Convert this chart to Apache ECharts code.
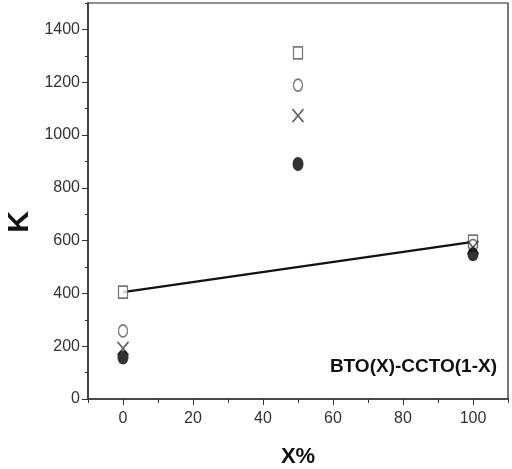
<!DOCTYPE html>
<html>
<head>
<meta charset="utf-8">
<script src="https://cdn.jsdelivr.net/npm/echarts@6/dist/echarts.min.js"></script>
<style>
  html, body { margin: 0; padding: 0; background: #fff; }
  #chart { width: 512px; height: 469px; }
</style>
</head>
<body>
<div id="chart"></div>
<script>
// X% positions and K values per marker type
let xValues = [0, 50, 100];
let squareK = [405, 1311, 598];
let circleK = [258, 1189, 582];
let crossK = [192, 1073, 574];
let filledK = [157, 890, 548];
// straight line drawn through the square points at 0 and 100
let lineX = [0, 100];
let lineK = [405, 595];
let xTickValues = [0, 20, 40, 60, 80, 100];
let yTickValues = [0, 200, 400, 600, 800, 1000, 1200, 1400];

function pairs(xs, ys) {
    let out = [];
    for (let i = 0; i < xs.length; i++) {
        out.push([xs[i], ys[i]]);
    }
    return out;
}

let myChart = echarts.init(document.getElementById('chart'));
let font = 'Liberation Sans, Arial, sans-serif';
let axisColor = '#333';
let plain = function (v) { return String(v); };

let option = {
    animation: false,
    grid: {
        left: 88, right: 4, top: 3, bottom: 70,
        outerBoundsMode: 'none',
        show: true, borderColor: '#222', borderWidth: 1.2
    },
    xAxis: [
        {
            type: 'value', min: -10, max: 110,
            name: 'X%', nameLocation: 'middle', nameGap: 47,
            nameTextStyle: {fontFamily: font, fontSize: 22, fontWeight: 'bold', color: '#111'},
            axisLine: {show: true, onZero: false, lineStyle: {color: axisColor, width: 1.5}},
            axisTick: {show: true, length: 6, customValues: xTickValues, lineStyle: {color: axisColor}},
            axisLabel: {customValues: xTickValues, formatter: plain, margin: 12, fontFamily: font, fontSize: 16, color: '#333'},
            splitLine: {show: false}
        },
        {
            // minor ticks every 10
            type: 'value', min: -10, max: 110, interval: 10, position: 'bottom',
            axisLine: {show: false, onZero: false},
            axisTick: {show: true, length: 4, lineStyle: {color: axisColor}},
            axisLabel: {show: false},
            splitLine: {show: false}
        }
    ],
    yAxis: [
        {
            type: 'value', min: 0, max: 1500,
            axisLine: {show: true, onZero: false, lineStyle: {color: axisColor, width: 1.5}},
            axisTick: {show: true, length: 6, customValues: yTickValues, lineStyle: {color: axisColor}},
            axisLabel: {customValues: yTickValues, formatter: plain, margin: 8, fontFamily: font, fontSize: 16, color: '#333'},
            splitLine: {show: false}
        },
        {
            // minor ticks every 100
            type: 'value', min: 0, max: 1500, interval: 100, position: 'left',
            axisLine: {show: false, onZero: false},
            axisTick: {show: true, length: 3, lineStyle: {color: axisColor}},
            axisLabel: {show: false},
            splitLine: {show: false}
        }
    ],
    graphic: [
        {
            type: 'text', x: 20, y: 222, rotation: Math.PI / 2,
            style: {text: 'K', font: 'bold 30px ' + font, fill: '#111', align: 'center', verticalAlign: 'middle'}
        },
        {
            type: 'text', x: 497, y: 367,
            style: {text: 'BTO(X)-CCTO(1-X)', font: 'bold 19px ' + font, fill: '#111', align: 'right', verticalAlign: 'middle'}
        }
    ],
    series: [
        {
            type: 'line', data: pairs(lineX, lineK), showSymbol: false, symbol: 'none',
            lineStyle: {color: '#111', width: 2.2}, z: 1
        },
        {
            type: 'scatter', data: pairs(xValues, squareK), symbol: 'rect', symbolSize: [9, 12],
            itemStyle: {color: '#fff', borderColor: '#555', borderWidth: 1.4}, z: 3
        },
        {
            type: 'scatter', data: pairs(xValues, circleK), symbol: 'circle', symbolSize: [9, 12],
            itemStyle: {color: '#fff', borderColor: '#555', borderWidth: 1.4}, z: 3
        },
        {
            type: 'scatter', data: pairs(xValues, crossK), symbol: 'path://M0,0L10,10M10,0L0,10',
            symbolSize: [11, 13],
            itemStyle: {color: 'none', borderColor: '#333', borderWidth: 1.6}, z: 3
        },
        {
            type: 'scatter', data: pairs(xValues, filledK), symbol: 'circle', symbolSize: [11, 14],
            itemStyle: {color: '#000'}, z: 4
        }
    ]
};
myChart.setOption(option);
</script>
</body>
</html>
